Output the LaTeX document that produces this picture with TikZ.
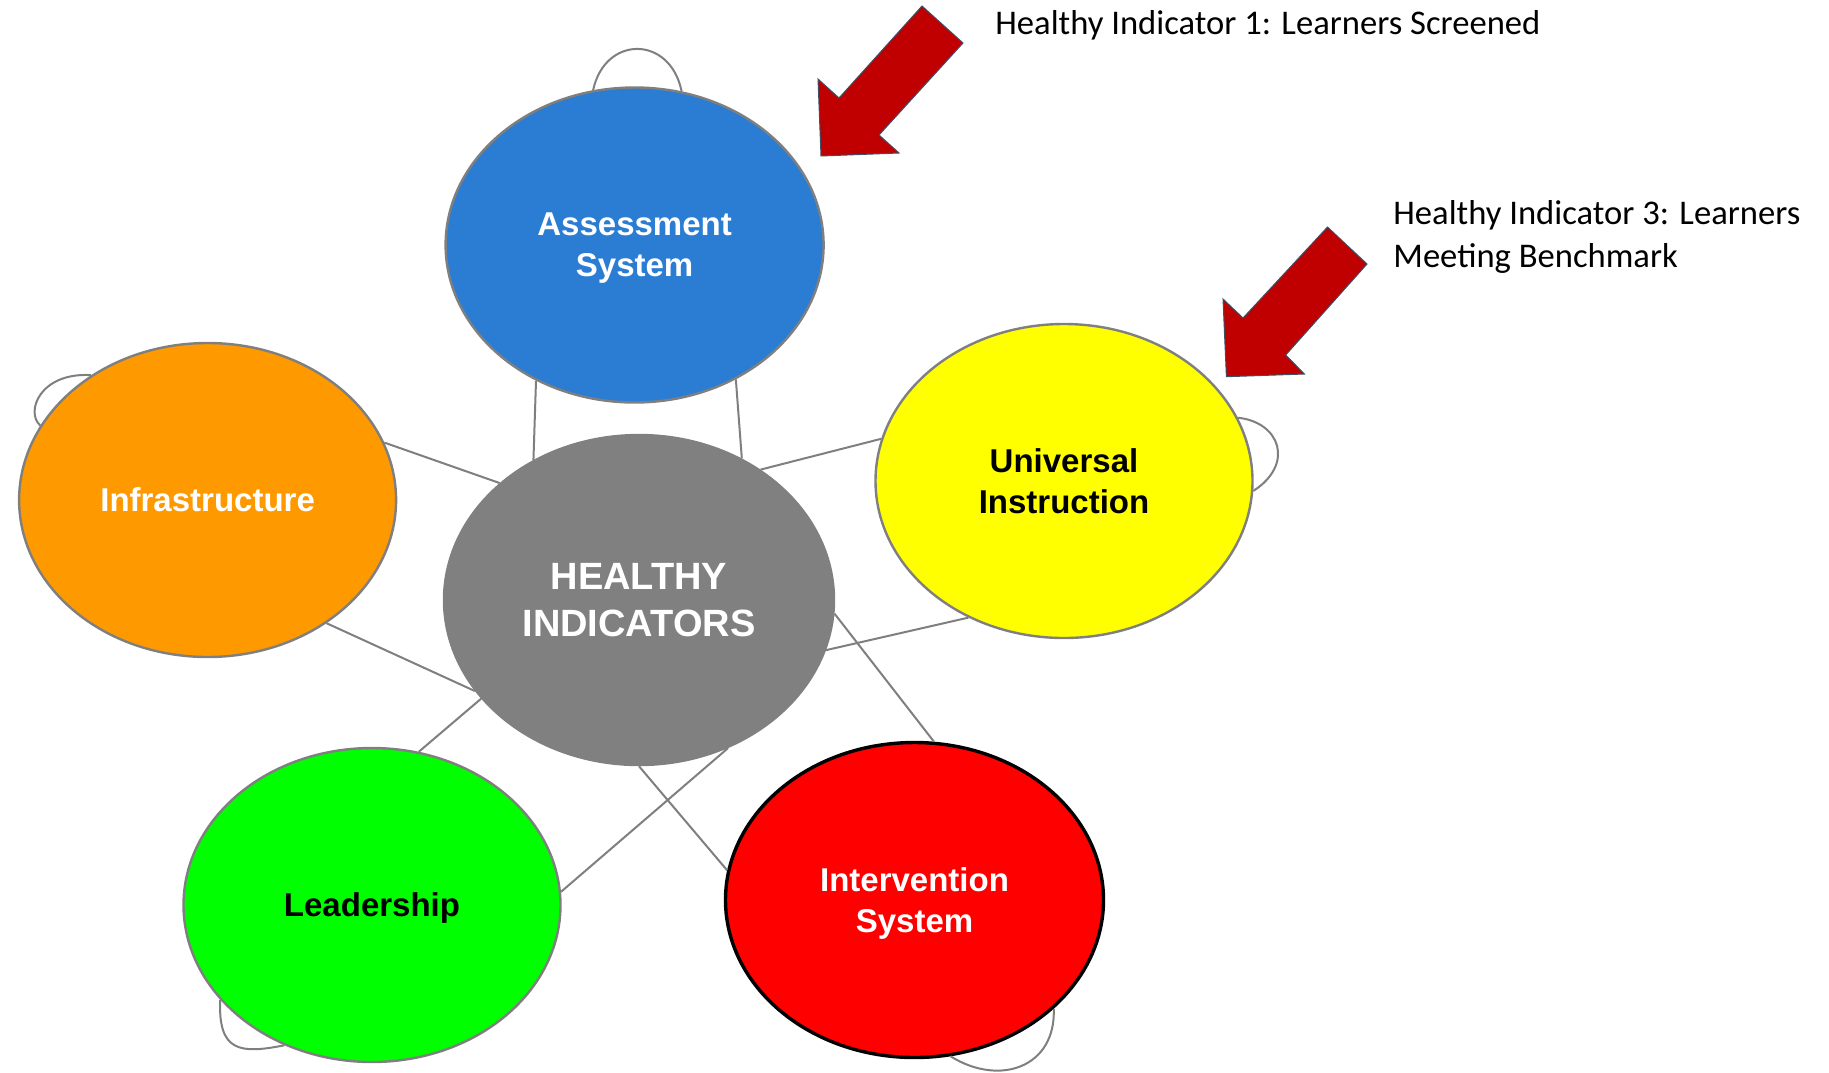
\documentclass[tikz,border=0pt]{standalone}
\usepackage{fontspec}
\setmainfont{Carlito}
\newfontfamily\lblfont{Liberation Sans}
\usetikzlibrary{shapes.geometric}
\definecolor{asblue}{HTML}{2A7DD3}
\definecolor{inorange}{HTML}{FF9900}
\definecolor{higray}{HTML}{808080}
\definecolor{uiyellow}{HTML}{FFFF00}
\definecolor{legreen}{HTML}{00FF00}
\definecolor{isred}{HTML}{FF0000}
\definecolor{rimgray}{HTML}{7F7F7F}
\definecolor{arrred}{HTML}{C00000}
\definecolor{arrrim}{HTML}{3E5068}
\newcommand{\hloop}[4]{\draw[conn] (#1) .. controls #2 and #3 .. (#4);}

\begin{document}
\begin{tikzpicture}[x=0.5pt,y=-0.5pt,
   bub/.style={ellipse, draw=rimgray, line width=1.2pt, inner sep=0pt, align=center,
               minimum width=188.5pt, minimum height=157pt, text depth=0pt,
               font=\lblfont\bfseries\fontsize{16.5}{20.4}\selectfont},
   conn/.style={draw=rimgray, line width=1pt},
   note/.style={inner sep=0pt, align=left, font=\fontsize{17.3}{21.6}\selectfont},
   bigarrow/.style={fill=arrred, draw=arrrim, line width=0.5pt, line join=miter}]
   \useasboundingbox (0,0) rectangle (1829,1072);

   % bubbles
   \node[bub, fill=asblue, text=white, minimum width=189pt, minimum height=157.5pt] (as) at (634.6,245) {Assessment\\System};
   \node[bub, fill=inorange, text=white] (in) at (207.6,500) {Infrastructure};
   \node[bub, fill=uiyellow, text=black] (ui) at (1064,481) {Universal\\Instruction};
   \node[bub, fill=legreen, text=black] (le) at (372,905) {Leadership};
   \node[bub, fill=isred, text=white, draw=black, line width=1.7pt, minimum width=189pt, minimum height=157.5pt] (is) at (914.5,900) {Intervention\\System};
   \node[bub, fill=higray, draw=higray, text=white, minimum width=195pt, minimum height=165pt,
         font=\lblfont\bfseries\fontsize{19}{23.3}\selectfont] (hi) at (639,600) {HEALTHY\\INDICATORS};

   % links to the centre
   \draw[conn] (as.234) -- (hi.127);
   \draw[conn] (as.307) -- (hi.54);
   \draw[conn] (in.18)  -- (hi.140);
   \draw[conn] (in.314) -- (hi.209);
   \draw[conn] (hi.47)  -- (ui.167);
   \draw[conn] (hi.345) -- (ui.235);
   \draw[conn] (le.73)  -- (hi.212);
   \draw[conn] (le.4)   -- (hi.301);
   \draw[conn] (hi.356) -- (is.83);
   \draw[conn] (hi.270) -- (is.171);

   % self loops
   \hloop{as.105}{(605,35)}{(670,35)}{as.73}
   \hloop{in.133}{(40,372)}{(25,412)}{in.156}
   \hloop{ui.20}{(1280,422)}{(1295,464)}{ui.357}
   \hloop{le.212}{(218,1052)}{(240,1054)}{le.238}
   \hloop{is.322}{(1056,1067)}{(1000,1087)}{is.283}

   % pointers
   \filldraw[bigarrow] (922,6) -- (963,43) -- (879,135) -- (899,153) -- (821,156) -- (818,79) -- (839,98) -- cycle;
   \filldraw[bigarrow] (1327.5,227) -- (1367,264) -- (1285.7,355) -- (1304.4,374) -- (1226.4,376.7) -- (1223,299) -- (1243,318) -- cycle;

   \node[note, anchor=west] (hi1) at (995,25) {Healthy Indicator 1: Learners Screened};
   \node[note, anchor=west] (hi3) at (1393,237) {Healthy Indicator 3: Learners\\Meeting Benchmark};
\end{tikzpicture}
\end{document}
